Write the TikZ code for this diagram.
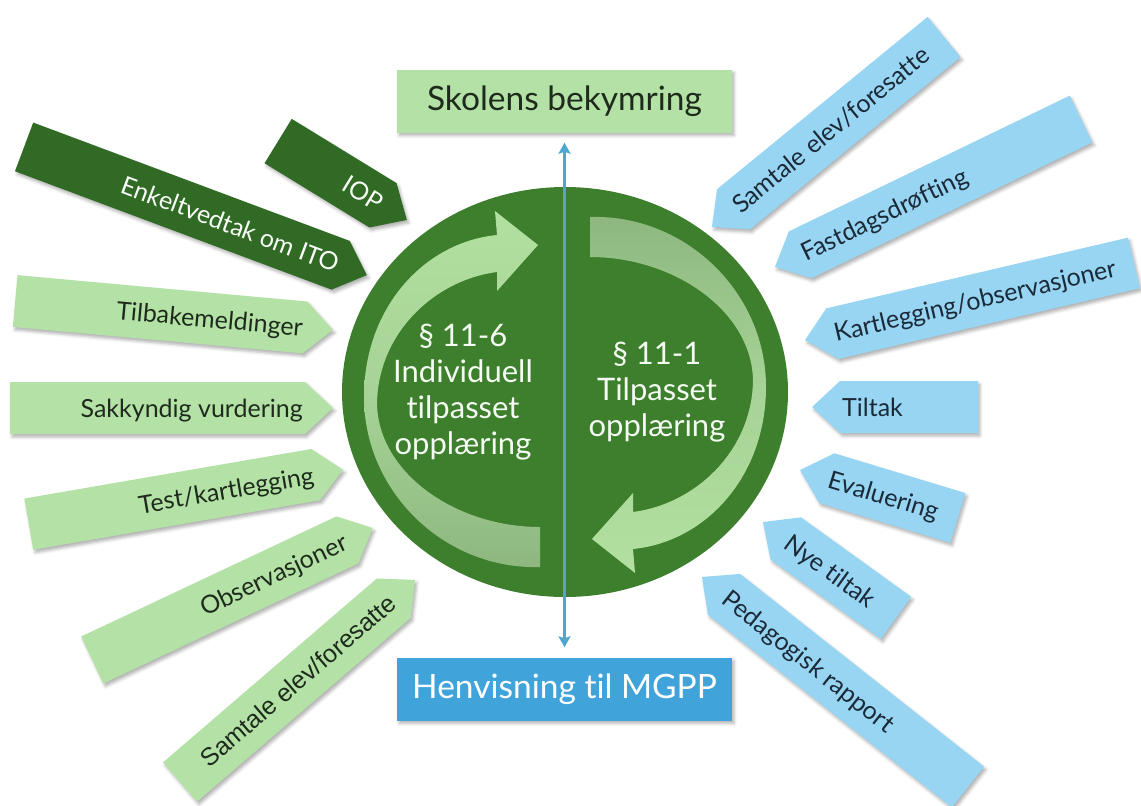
\documentclass[tikz,border=0pt]{standalone}
\usepackage{fontspec}
\setmainfont{Lato}[Ligatures={NoCommon}]
\newfontfamily\arialfont{Liberation Sans}
\usepackage{tikz}
\usetikzlibrary{shapes.geometric,arrows.meta,shadows.blur}

\definecolor{morkgronn}{HTML}{306A25}
\definecolor{lysgronn}{HTML}{B4E2A6}
\definecolor{himmel}{HTML}{97D5F2}
\definecolor{sirkelgronn}{HTML}{3D7F2C}
\definecolor{henvblaa}{HTML}{40A4DB}
\definecolor{linjeblaa}{HTML}{4EA7D3}
\definecolor{pilfrisk}{HTML}{B2E0A0}
\definecolor{pilmatt}{HTML}{8DB77F}
\definecolor{tekstgronn}{HTML}{1E2B1C}
\definecolor{tekstblaa}{HTML}{1B2A38}

% tag pointing east (towards the circle), label ends at the shoulder
\newcommand\pilhoyre[6]{%
  \begin{scope}[shift={#2}, rotate=#3]
    \fill[#5pil] (-#4/2,-26) -- (#4/2-28,-26) -- (#4/2,0)
      -- (#4/2-28,26) -- (-#4/2,26) -- cycle;
    \node[#5tekst, anchor=east, transform shape] (#1) at (#4/2-30,0) {#6};
  \end{scope}}
% tag pointing west, label starts at the shoulder
\newcommand\pilvenstre[6]{%
  \begin{scope}[shift={#2}, rotate=#3]
    \fill[#5pil] (#4/2,-26) -- (-#4/2+28,-26) -- (-#4/2,0)
      -- (-#4/2+28,26) -- (#4/2,26) -- cycle;
    \node[#5tekst, anchor=west, transform shape] (#1) at (-#4/2+30,0) {#6};
  \end{scope}}
% crescent arrow on the left half, drawn around the circle centre
\newcommand\bue{(-25,175) .. controls (-120,178) and (-201,100) .. (-201,5)
  .. controls (-201,-85) and (-140,-150) .. (-68,-157)
  -- (-70,-181) -- (-27,-147) -- (-68,-101) -- (-68,-120)
  .. controls (-130,-112) and (-186,-60) .. (-188,10)
  .. controls (-188,80) and (-110,135) .. (-25,135) -- cycle}

\begin{document}
\begin{tikzpicture}[x=1pt, y=-1pt,
  skygge/.style={blur shadow={shadow xshift=2pt, shadow yshift=-3pt,
                 shadow blur radius=3pt, shadow opacity=30}},
  gronnpil/.style={fill=lysgronn, skygge},
  morkpil/.style={fill=morkgronn, skygge},
  blaapil/.style={fill=himmel, skygge},
  merkelapp/.style={inner sep=0pt, text height=18pt, text depth=0pt,
                    font=\fontsize{25}{30}\selectfont},
  gronntekst/.style={merkelapp, text=tekstgronn},
  morktekst/.style={merkelapp, text=white!90!lysgronn},
  blaatekst/.style={merkelapp, text=tekstblaa},
  boks/.style={minimum width=335pt, minimum height=63pt, skygge,
               font=\fontsize{33.5}{40}\selectfont},
  sirkeltekst/.style={align=center, text=white!85!lysgronn,
                      font=\fontsize{31}{36}\selectfont},
]
\useasboundingbox (0,0) rectangle (1141,806);

\node[boks, fill=lysgronn, text=tekstgronn] (skole) at (564.5,101) {Skolens bekymring};
\node[boks, fill=henvblaa, text=white] (henv) at (564.5,689) {Henvisning til MGPP};

\node[ellipse, fill=sirkelgronn, minimum width=446pt, minimum height=410pt]
  (sirkel) at (565,392) {};

\begin{scope}[shift={(sirkel.center)}]
  \shade[top color=pilfrisk, bottom color=pilmatt,
         middle color=pilfrisk!70!pilmatt] \bue;
  \shade[rotate=180, top color=pilmatt, bottom color=pilfrisk,
         middle color=pilfrisk!70!pilmatt] \bue;
\end{scope}

\node[sirkeltekst] (ito) at (463,392) {§ 11-6\\Individuell\\tilpasset\\opplæring};
\node[sirkeltekst] (to) at (657,392) {§ 11-1\\Tilpasset\\opplæring};

% left fan
\pilhoyre{iop}{(342.5,180.5)}{-31.5}{151}{mork}{IOP}
\pilhoyre{vedtak}{(195.5,211)}{-20.5}{366}{mork}{Enkeltvedtak om ITO}
\pilhoyre{tilbake}{(174,315.5)}{-5.2}{319}{gronn}{Tilbakemeldinger}
\pilhoyre{sakkyndig}{(171.5,408)}{0}{323}{gronn}{Sakkyndig vurdering}
\pilhoyre{test}{(186,497)}{9.8}{319}{gronn}{Test/kartlegging}
\pilhoyre{obs}{(232.5,594)}{25.2}{310}{gronn}{Observasjoner}
\pilhoyre{samtaleV}{(297.5,681)}{40.7}{310}{gronn}{\arialfont Samtale elev/foresatte}

% right fan
\pilvenstre{samtaleH}{(828,132)}{39.3}{300}{blaa}{Samtale elev/foresatte}
\pilvenstre{fastdag}{(928,193)}{25.8}{340}{blaa}{Fastdagsdrøfting}
\pilvenstre{kartlegging}{(969.5,301.5)}{13.2}{338}{blaa}{Kartlegging/observasjoner}
\pilvenstre{tiltak}{(895,407)}{0}{166}{blaa}{Tiltak}
\pilvenstre{evaluering}{(879,494)}{-16.9}{165}{blaa}{Evaluering}
\pilvenstre{nye}{(829.5,570)}{-35.8}{164}{blaa}{Nye tiltak}
\pilvenstre{pedagogisk}{(835,682)}{-38.3}{339}{blaa}{Pedagogisk rapport}

\draw[linjeblaa, line width=2.5pt,
      {Stealth[length=11pt, width=12pt, inset=2pt]}-{Stealth[length=11pt, width=12pt, inset=2pt]},
      shorten <=10pt, shorten >=10pt] (skole.south) -- (henv.north);

\end{tikzpicture}
\end{document}
